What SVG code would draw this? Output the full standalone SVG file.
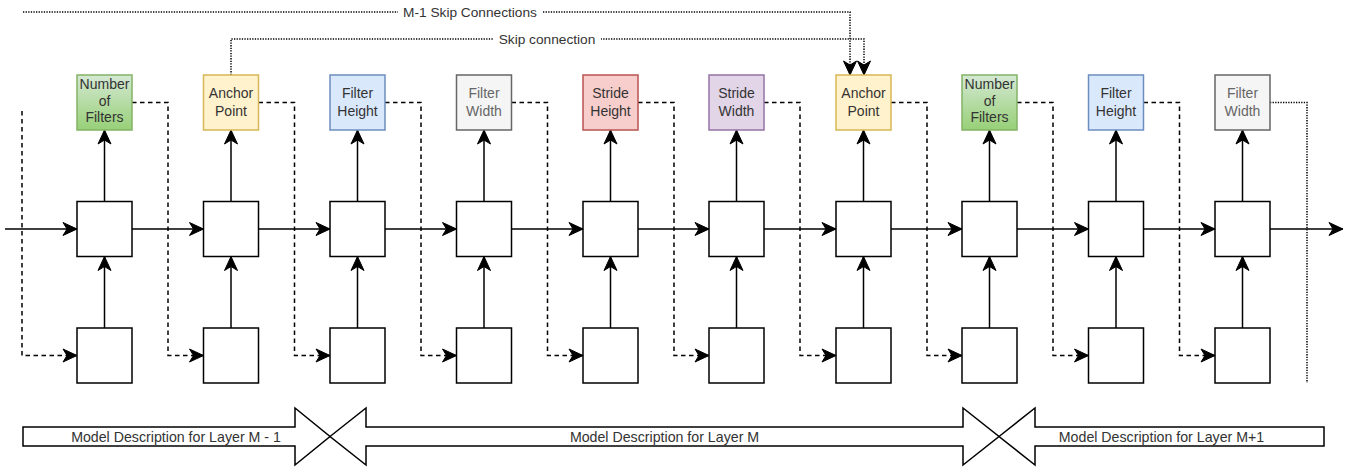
<svg xmlns="http://www.w3.org/2000/svg" width="1357" height="468" viewBox="0 0 1357 468">
<defs>
<linearGradient id="gGreen" x1="0" y1="0" x2="0" y2="1">
<stop offset="0" stop-color="#d5e8d4"/>
<stop offset="1" stop-color="#97d077"/>
</linearGradient>
<marker id="arr" markerUnits="userSpaceOnUse" markerWidth="16" markerHeight="16" viewBox="0 0 16 16" refX="15" refY="8" orient="auto">
<path d="M1,1.5 L15,8 L1,14.5 L5,8 Z" fill="#000" stroke="#000" stroke-width="1"/>
</marker>
</defs>
<style>
.box{fill:#fff;stroke:#000;stroke-width:1.5}
.lbl{font-family:"Liberation Sans",Arial,sans-serif;font-size:14px;fill:#333;text-anchor:middle}
.lblg{font-family:"Liberation Sans",Arial,sans-serif;font-size:14px;fill:#666;text-anchor:middle}
.skl{font-family:"Liberation Sans",Arial,sans-serif;font-size:13.7px;fill:#333;text-anchor:middle}
.bl{font-family:"Liberation Sans",Arial,sans-serif;font-size:14.2px;fill:#333;text-anchor:middle}
.solid{fill:none;stroke:#000;stroke-width:1.5;marker-end:url(#arr)}
.dash{fill:none;stroke:#000;stroke-width:1.5;stroke-dasharray:4.5 3.5}
.dasha{fill:none;stroke:#000;stroke-width:1.5;stroke-dasharray:4.5 3.5;marker-end:url(#arr)}
.dot{fill:none;stroke:#000;stroke-width:1.5;stroke-dasharray:1.3 1.3}
.dota{fill:none;stroke:#000;stroke-width:1.5;stroke-dasharray:1.3 1.3;marker-end:url(#arr)}
.barrow{fill:#fff;stroke:#000;stroke-width:1.5}
</style>
<rect width="1357" height="468" fill="#fff"/>

<g id="connectors">
<path class="dota" d="M23,12 H850 V75"/>
<path class="dota" d="M231,75 V39 H864 V75"/>
<path class="solid" d="M5,229 H77"/>
<path class="solid" d="M132,229 H203.5"/>
<path class="solid" d="M258.5,229 H330"/>
<path class="solid" d="M385,229 H456.5"/>
<path class="solid" d="M511.5,229 H583"/>
<path class="solid" d="M638,229 H709"/>
<path class="solid" d="M764,229 H836"/>
<path class="solid" d="M891,229 H962"/>
<path class="solid" d="M1017,229 H1088.5"/>
<path class="solid" d="M1143.5,229 H1215"/>
<path class="solid" d="M1270,229 H1343"/>
<path class="solid" d="M104.5,201.5 V130"/>
<path class="solid" d="M231,201.5 V130"/>
<path class="solid" d="M357.5,201.5 V130"/>
<path class="solid" d="M484,201.5 V130"/>
<path class="solid" d="M610.5,201.5 V130"/>
<path class="solid" d="M736.5,201.5 V130"/>
<path class="solid" d="M863.5,201.5 V130"/>
<path class="solid" d="M989.5,201.5 V130"/>
<path class="solid" d="M1116,201.5 V130"/>
<path class="solid" d="M1242.5,201.5 V130"/>
<path class="solid" d="M104.5,328 V256.5"/>
<path class="solid" d="M231,328 V256.5"/>
<path class="solid" d="M357.5,328 V256.5"/>
<path class="solid" d="M484,328 V256.5"/>
<path class="solid" d="M610.5,328 V256.5"/>
<path class="solid" d="M736.5,328 V256.5"/>
<path class="solid" d="M863.5,328 V256.5"/>
<path class="solid" d="M989.5,328 V256.5"/>
<path class="solid" d="M1116,328 V256.5"/>
<path class="solid" d="M1242.5,328 V256.5"/>
<path class="dasha" d="M22,111 V355.5 H77"/>
<path class="dasha" d="M132,102.5 H168 V355.5 H203.5"/>
<path class="dasha" d="M258.5,102.5 H294.5 V355.5 H330"/>
<path class="dasha" d="M385,102.5 H421 V355.5 H456.5"/>
<path class="dasha" d="M511.5,102.5 H547.5 V355.5 H583"/>
<path class="dasha" d="M638,102.5 H674 V355.5 H709"/>
<path class="dasha" d="M764,102.5 H800 V355.5 H836"/>
<path class="dasha" d="M891,102.5 H927 V355.5 H962"/>
<path class="dasha" d="M1017,102.5 H1053 V355.5 H1088.5"/>
<path class="dasha" d="M1143.5,102.5 H1179.5 V355.5 H1215"/>
<path class="dot" d="M1270,102.5 H1307 V383"/>
<rect x="398" y="4" width="144" height="16" fill="#fff"/>
<text class="skl" x="470" y="16.8">M-1 Skip Connections</text>
<rect x="493" y="31" width="108" height="16" fill="#fff"/>
<text class="skl" x="547" y="43.8">Skip connection</text>
</g>

<g id="top-nodes">
<g id="t0"><rect x="77" y="75" width="55" height="55" fill="url(#gGreen)" stroke="#82b366" stroke-width="1.5"/><text class="lbl" x="104.5" y="89">Number</text><text class="lbl" x="104.5" y="105.5">of</text><text class="lbl" x="104.5" y="122">Filters</text></g>
<g id="t1"><rect x="203.5" y="75" width="55" height="55" fill="#fff2cc" stroke="#d6b656" stroke-width="1.5"/><text class="lbl" x="231" y="98">Anchor</text><text class="lbl" x="231" y="115.5">Point</text></g>
<g id="t2"><rect x="330" y="75" width="55" height="55" fill="#dae8fc" stroke="#6c8ebf" stroke-width="1.5"/><text class="lbl" x="357.5" y="98">Filter</text><text class="lbl" x="357.5" y="115.5">Height</text></g>
<g id="t3"><rect x="456.5" y="75" width="55" height="55" fill="#f5f5f5" stroke="#666666" stroke-width="1.5"/><text class="lblg" x="484" y="98">Filter</text><text class="lblg" x="484" y="115.5">Width</text></g>
<g id="t4"><rect x="583" y="75" width="55" height="55" fill="#f8cecc" stroke="#b85450" stroke-width="1.5"/><text class="lbl" x="610.5" y="98">Stride</text><text class="lbl" x="610.5" y="115.5">Height</text></g>
<g id="t5"><rect x="709" y="75" width="55" height="55" fill="#e1d5e7" stroke="#9673a6" stroke-width="1.5"/><text class="lbl" x="736.5" y="98">Stride</text><text class="lbl" x="736.5" y="115.5">Width</text></g>
<g id="t6"><rect x="836" y="75" width="55" height="55" fill="#fff2cc" stroke="#d6b656" stroke-width="1.5"/><text class="lbl" x="863.5" y="98">Anchor</text><text class="lbl" x="863.5" y="115.5">Point</text></g>
<g id="t7"><rect x="962" y="75" width="55" height="55" fill="url(#gGreen)" stroke="#82b366" stroke-width="1.5"/><text class="lbl" x="989.5" y="89">Number</text><text class="lbl" x="989.5" y="105.5">of</text><text class="lbl" x="989.5" y="122">Filters</text></g>
<g id="t8"><rect x="1088.5" y="75" width="55" height="55" fill="#dae8fc" stroke="#6c8ebf" stroke-width="1.5"/><text class="lbl" x="1116" y="98">Filter</text><text class="lbl" x="1116" y="115.5">Height</text></g>
<g id="t9"><rect x="1215" y="75" width="55" height="55" fill="#f5f5f5" stroke="#666666" stroke-width="1.5"/><text class="lblg" x="1242.5" y="98">Filter</text><text class="lblg" x="1242.5" y="115.5">Width</text></g>
</g>

<g id="middle-nodes">
<rect id="m0" class="box" x="77" y="201.5" width="55" height="55"/>
<rect id="m1" class="box" x="203.5" y="201.5" width="55" height="55"/>
<rect id="m2" class="box" x="330" y="201.5" width="55" height="55"/>
<rect id="m3" class="box" x="456.5" y="201.5" width="55" height="55"/>
<rect id="m4" class="box" x="583" y="201.5" width="55" height="55"/>
<rect id="m5" class="box" x="709" y="201.5" width="55" height="55"/>
<rect id="m6" class="box" x="836" y="201.5" width="55" height="55"/>
<rect id="m7" class="box" x="962" y="201.5" width="55" height="55"/>
<rect id="m8" class="box" x="1088.5" y="201.5" width="55" height="55"/>
<rect id="m9" class="box" x="1215" y="201.5" width="55" height="55"/>
</g>

<g id="bottom-nodes">
<rect id="b0" class="box" x="77" y="328" width="55" height="55"/>
<rect id="b1" class="box" x="203.5" y="328" width="55" height="55"/>
<rect id="b2" class="box" x="330" y="328" width="55" height="55"/>
<rect id="b3" class="box" x="456.5" y="328" width="55" height="55"/>
<rect id="b4" class="box" x="583" y="328" width="55" height="55"/>
<rect id="b5" class="box" x="709" y="328" width="55" height="55"/>
<rect id="b6" class="box" x="836" y="328" width="55" height="55"/>
<rect id="b7" class="box" x="962" y="328" width="55" height="55"/>
<rect id="b8" class="box" x="1088.5" y="328" width="55" height="55"/>
<rect id="b9" class="box" x="1215" y="328" width="55" height="55"/>
</g>

<g id="layer-m-minus-1">
<polygon class="barrow" points="23,427 295,427 295,408 330,436.5 295,465 295,446 23,446"/>
<text class="bl" x="176" y="441.5">Model Description for Layer M - 1</text>
</g>
<g id="layer-m">
<polygon class="barrow" points="330,436.5 366,408 366,427 963,427 963,408 999,436.5 963,465 963,446 366,446 366,465"/>
<text class="bl" x="664.5" y="441.5">Model Description for Layer M</text>
</g>
<g id="layer-m-plus-1">
<polygon class="barrow" points="999,436.5 1035,408 1035,427 1324,427 1324,446 1035,446 1035,465"/>
<text class="bl" x="1161.5" y="441.5">Model Description for Layer M+1</text>
</g>
</svg>
